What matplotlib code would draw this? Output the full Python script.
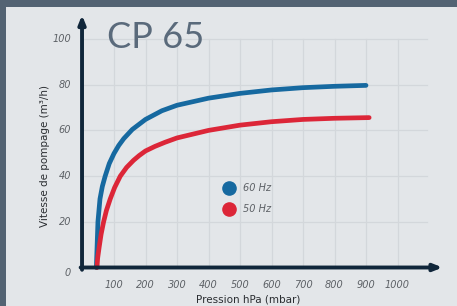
import matplotlib.pyplot as plt
from matplotlib.patches import Rectangle

# --- data ---
pressure_60 = [44, 46, 49, 55.5, 63, 72, 85, 100, 115, 131, 158, 200, 252, 300,
               400, 500, 600, 700, 800, 900]
speed_60 = [0, 8, 20, 30, 35.5, 40, 45.5, 49.9, 53.4, 56.4, 60.4, 64.8, 68.6, 71.0,
            74.1, 76.2, 77.7, 78.7, 79.3, 79.7]

pressure_50 = [46, 48, 53, 59, 67, 76, 88, 102, 120, 140, 162, 180, 200, 230, 262, 300,
               400, 500, 600, 700, 800, 910]
speed_50 = [0, 4, 9, 14.5, 20, 25, 30, 35, 40, 43.8, 46.9, 49.0, 51.0, 53.0, 54.8, 56.7,
            60.0, 62.3, 63.8, 64.8, 65.3, 65.6]

x_ticks = [100, 200, 300, 400, 500, 600, 700, 800, 900, 1000]
y_ticks = [0, 20, 40, 60, 80, 100]

title = "CP 65"
xlabel = "Pression hPa (mbar)"
ylabel = "Vitesse de pompage (m³/h)"
legend_labels = ["60 Hz", "50 Hz"]

blue = "#1669a0"
red = "#dc2638"
navy = "#10263a"
grid_col = "#d3d7db"
tick_col = "#5d6166"

W, H = 457, 306
fig = plt.figure(figsize=(W / 100, H / 100), dpi=100, facecolor="#536373")
fig.patches.append(Rectangle((6 / W, 0), 1, 1 - 7 / H, transform=fig.transFigure,
                             facecolor="#e3e6e9", edgecolor="none", zorder=-10))

# axes placed so that data coords map onto the reference pixels
x0_px, y0_px = 82.5, 267.5
sx, sy = 0.315, 2.285
xmin, xmax, ymin, ymax = -100, 1200, -10, 115
left = x0_px + xmin * sx
ax = fig.add_axes([left / W, 1 - (y0_px - ymin * sy) / H,
                   (xmax - xmin) * sx / W, (ymax - ymin) * sy / H])
ax.set_zorder(1)
ax.set_xlim(xmin, xmax)
ax.set_ylim(ymin, ymax)
ax.axis("off")

# grid
for x in x_ticks:
    ax.plot([x, x], [0, 100], color=grid_col, lw=0.9, zorder=1)
for y in y_ticks[1:]:
    ax.plot([0, 1095], [y, y], color=grid_col, lw=0.9, zorder=1)

# axes with arrows
arrow = dict(arrowstyle="-|>,head_length=0.5,head_width=0.2", lw=2.8,
             color=navy, shrinkA=0, shrinkB=0)
ax.annotate("", xy=(1143, 0), xytext=(-6, 0), arrowprops=arrow, zorder=5)
ax.annotate("", xy=(-1.5, 110.5), xytext=(-1.5, -1), arrowprops=arrow, zorder=5)

# curves
ax.plot(pressure_60, speed_60, color=blue, lw=3.4, solid_capstyle="round",
        solid_joinstyle="round", zorder=4)
ax.plot(pressure_50, speed_50, color=red, lw=3.4, solid_capstyle="round",
        solid_joinstyle="round", zorder=4)

# tick labels
for x in x_ticks:
    ax.text(x, -7.7, str(x), ha="center", va="center", fontsize=7,
            style="italic", color=tick_col)
for y in y_ticks:
    yy = -2.4 if y == 0 else y
    ax.text(-36, yy, str(y), ha="right", va="center", fontsize=7,
            style="italic", color=tick_col)

ax.text(77, 100.5, title, ha="left", va="center", fontsize=26,
        family=["Lato", "DejaVu Sans"], color="#5a6a7b")
ax.text(-119, 49, ylabel, rotation=90, ha="center", va="center",
        fontsize=7.5, color="#2a2d31")
ax.text(525, -13.8, xlabel, ha="center", va="center", fontsize=7.5, color="#2a2d31")

# legend
for yy, col, lab in [(34.8, blue, legend_labels[0]), (25.6, red, legend_labels[1])]:
    ax.plot([465], [yy], "o", ms=9.5, color=col, zorder=6)
    ax.text(508, yy, lab, ha="left", va="center", fontsize=7,
            style="italic", color=tick_col)

fig.savefig("out.png", dpi=100, facecolor=fig.get_facecolor())
